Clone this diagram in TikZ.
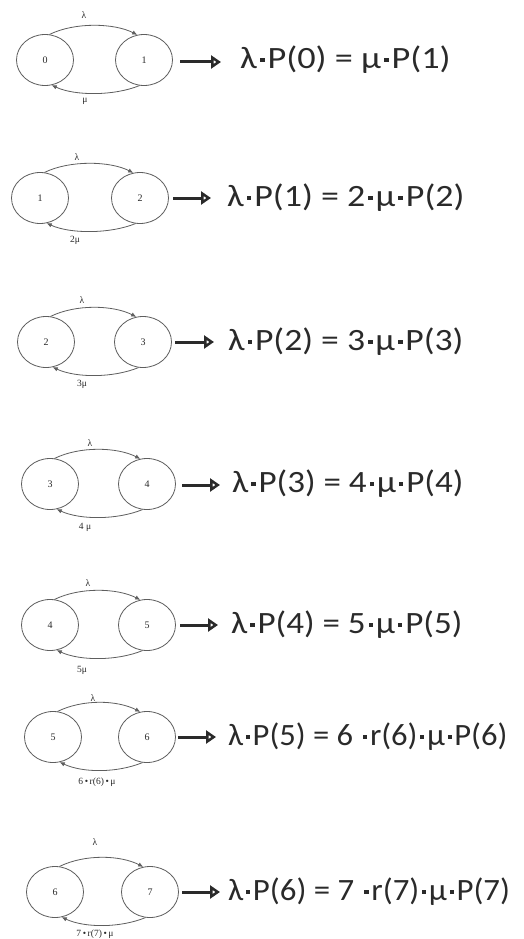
\documentclass[tikz,border=0pt]{standalone}
\usepackage{fontspec}
\setmainfont{Liberation Serif}
\newfontfamily\eqfont{Carlito}
\usetikzlibrary{shapes.geometric,arrows.meta,calc}
\definecolor{ln}{HTML}{5E5E5E}
\definecolor{tx}{HTML}{2A2A2A}
\newcommand{\dt}{\hspace{2.5pt}\raisebox{7pt}{\rule{4pt}{4pt}}\hspace{2.5pt}}
\newcommand{\sx}[2]{\scalebox{#1}[1]{#2}}
\tikzset{
  state/.style={ellipse,draw=ln,line width=0.8pt,minimum width=57pt,minimum height=51pt,inner sep=0pt,font=\fontsize{10}{10}\selectfont,text=tx},
  trans/.style={draw=ln,line width=0.8pt,-{Latex[length=5pt,width=4.5pt]}},
  lab/.style={font=\fontsize{9.5}{9.5}\selectfont,text=tx,inner sep=0pt},
  eq/.style={anchor=west,inner sep=0pt,font=\eqfont\fontsize{31}{31}\selectfont,text=tx},
  bigarrow/.style={draw=tx,line width=3pt,-{Triangle[open,length=10pt,width=13pt,line width=2.6pt]}}
}
\begin{document}
\begin{tikzpicture}[x=1pt,y=-1pt]
\useasboundingbox[fill=white] (0,0) rectangle (524,939);
% ---------- row 1
\node[state] (a1) at (45,60) {0};
\node[state] (b1) at (144,60) {1};
\draw[trans] (a1.80) .. controls ($(a1.center)+(30,-38)$) and ($(b1.center)+(-30,-37)$) .. (b1.105);
\draw[trans] (b1.-100) .. controls ($(b1.center)+(-30,36)$) and ($(a1.center)+(30,36)$) .. (a1.-75);
\node[lab] (l1) at (84,15) {λ};
\node[lab] (m1) at (85,101) {μ};
\coordinate (s1) at (180,62); \coordinate (t1) at (221,62);
\draw[bigarrow] (s1) -- (t1);
\node[eq] (e1) at (240,60) {\sx{1.17}{λ\dt P(0) = μ\dt P(1)}};
% ---------- row 2
\node[state] (a2) at (40,198) {1};
\node[state] (b2) at (140,198) {2};
\draw[trans] (a2.80) .. controls ($(a2.center)+(30,-38)$) and ($(b2.center)+(-30,-37)$) .. (b2.105);
\draw[trans] (b2.-100) .. controls ($(b2.center)+(-30,36)$) and ($(a2.center)+(30,36)$) .. (a2.-75);
\node[lab] (l2) at (77,157) {λ};
\node[lab] (m2) at (75,240) {2μ};
\coordinate (s2) at (173,198); \coordinate (t2) at (211,198);
\draw[bigarrow] (s2) -- (t2);
\node[eq] (e2) at (227,198) {\sx{1.16}{λ\dt P(1) = 2\dt μ\dt P(2)}};
% ---------- row 3
\node[state] (a3) at (46,342) {2};
\node[state] (b3) at (143,342) {3};
\draw[trans] (a3.80) .. controls ($(a3.center)+(30,-38)$) and ($(b3.center)+(-30,-37)$) .. (b3.105);
\draw[trans] (b3.-100) .. controls ($(b3.center)+(-30,36)$) and ($(a3.center)+(30,36)$) .. (a3.-75);
\node[lab] (l3) at (82,300) {λ};
\node[lab] (m3) at (82,384) {3μ};
\coordinate (s3) at (175,342); \coordinate (t3) at (214,342);
\draw[bigarrow] (s3) -- (t3);
\node[eq] (e3) at (228,342) {\sx{1.15}{λ\dt P(2) = 3\dt μ\dt P(3)}};
% ---------- row 4
\node[state] (a4) at (50,484) {3};
\node[state] (b4) at (147,484) {4};
\draw[trans] (a4.80) .. controls ($(a4.center)+(30,-38)$) and ($(b4.center)+(-30,-37)$) .. (b4.105);
\draw[trans] (b4.-100) .. controls ($(b4.center)+(-30,36)$) and ($(a4.center)+(30,36)$) .. (a4.-75);
\node[lab] (l4) at (90,443) {λ};
\node[lab] (m4) at (85,527) {4 μ};
\coordinate (s4) at (182,485); \coordinate (t4) at (220,485);
\draw[bigarrow] (s4) -- (t4);
\node[eq] (e4) at (232,484) {\sx{1.13}{λ\dt P(3) = 4\dt μ\dt P(4)}};
% ---------- row 5
\node[state] (a5) at (50,625) {4};
\node[state] (b5) at (147,625) {5};
\draw[trans] (a5.80) .. controls ($(a5.center)+(30,-38)$) and ($(b5.center)+(-30,-37)$) .. (b5.105);
\draw[trans] (b5.-100) .. controls ($(b5.center)+(-30,36)$) and ($(a5.center)+(30,36)$) .. (a5.-75);
\node[lab] (l5) at (88,583) {λ};
\node[lab] (m5) at (82,670) {5μ};
\coordinate (s5) at (180,625); \coordinate (t5) at (218,625);
\draw[bigarrow] (s5) -- (t5);
\node[eq] (e5) at (231,625) {\sx{1.13}{λ\dt P(4) = 5\dt μ\dt P(5)}};
% ---------- row 6
\node[state] (a6) at (53,737) {5};
\node[state] (b6) at (147,737) {6};
\draw[trans] (a6.80) .. controls ($(a6.center)+(30,-38)$) and ($(b6.center)+(-30,-37)$) .. (b6.105);
\draw[trans] (b6.-100) .. controls ($(b6.center)+(-30,36)$) and ($(a6.center)+(30,36)$) .. (a6.-75);
\node[lab] (l6) at (93,698) {λ};
\node[lab] (m6) at (97,782) {6\,•\,r(6)\,•\,μ};
\coordinate (s6) at (178,737); \coordinate (t6) at (216,737);
\draw[bigarrow] (s6) -- (t6);
\node[eq] (e6) at (228,737) {\sx{1.05}{λ\dt P(5) = 6 \dt r(6)\dt μ\dt P(6)}};
% ---------- row 7
\node[state] (a7) at (55,892) {6};
\node[state] (b7) at (150,892) {7};
\draw[trans] (a7.80) .. controls ($(a7.center)+(30,-38)$) and ($(b7.center)+(-30,-37)$) .. (b7.105);
\draw[trans] (b7.-100) .. controls ($(b7.center)+(-30,36)$) and ($(a7.center)+(30,36)$) .. (a7.-75);
\node[lab] (l7) at (95,842) {λ};
\node[lab] (m7) at (95,934) {7\,•\,r(7)\,•\,μ};
\coordinate (s7) at (182,892); \coordinate (t7) at (220,892);
\draw[bigarrow] (s7) -- (t7);
\node[eq] (e7) at (228,892) {\sx{1.06}{λ\dt P(6) = 7 \dt r(7)\dt μ\dt P(7)}};
\end{tikzpicture}
\end{document}
